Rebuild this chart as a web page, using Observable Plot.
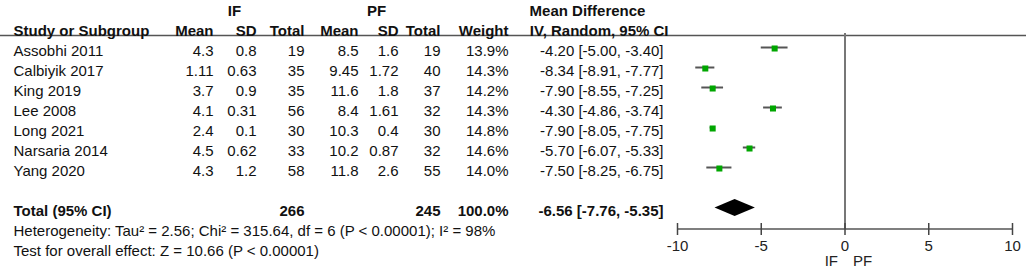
<!DOCTYPE html>
<html><head><meta charset="utf-8">
<script src="https://cdn.jsdelivr.net/npm/d3@7"></script>
<script src="https://cdn.jsdelivr.net/npm/@observablehq/plot@0.6"></script>
<style>
body{margin:0;background:#fff;}
#chart{position:relative;width:1026px;height:270px;background:#fff;}
#chart svg{position:absolute;left:0;top:0;}
</style></head><body><div id="chart"></div>
<script>
// ---- data ----
const studies = ["Assobhi 2011","Calbiyik 2017","King 2019","Lee 2008","Long 2021","Narsaria 2014","Yang 2020"];
const ifMean  = [4.3, 1.11, 3.7, 4.1, 2.4, 4.5, 4.3];
const ifSD    = [0.8, 0.63, 0.9, 0.31, 0.1, 0.62, 1.2];
const ifTotal = [19, 35, 35, 56, 30, 33, 58];
const pfMean  = [8.5, 9.45, 11.6, 8.4, 10.3, 10.2, 11.8];
const pfSD    = [1.6, 1.72, 1.8, 1.61, 0.4, 0.87, 2.6];
const pfTotal = [19, 40, 37, 32, 30, 32, 55];
const weight  = [13.9, 14.3, 14.2, 14.3, 14.8, 14.6, 14.0];
const md      = [-4.20, -8.34, -7.90, -4.30, -7.90, -5.70, -7.50];
const ciLow   = [-5.00, -8.91, -8.55, -4.86, -8.05, -6.07, -8.25];
const ciHigh  = [-3.40, -7.77, -7.25, -3.74, -7.75, -5.33, -6.75];
const totalLabel = "Total (95% CI)";
const totalIF = 266, totalPF = 245, totalWeight = 100.0;
const totalMD = -6.56, totalLow = -7.76, totalHigh = -5.35;
const heterogeneity = "Heterogeneity: Tau\u00b2 = 2.56; Chi\u00b2 = 315.64, df = 6 (P < 0.00001); I\u00b2 = 98%";
const overallEffect = "Test for overall effect: Z = 10.66 (P < 0.00001)";
const groupLabels = ["IF", "PF"];
const columnLabels = ["Study or Subgroup","Mean","SD","Total","Mean","SD","Total","Weight","IV, Random, 95% CI"];
const mdTitle = "Mean Difference";
const xTicks = [-10, -5, 0, 5, 10];
const favours = ["IF", "PF"];

// ---- layout ----
const W = 1026, H = 270, FS = 15;
const font = "'Liberation Sans', Arial, Helvetica, sans-serif";
const rowKeys = ["grp","head", ...studies.map((_, i) => "s" + i), "gap", "total", "het", "test"];
const yScale = {type: "point", domain: rowKeys, range: [9.4, 253], padding: 0, axis: null};
const colKeys = ["study","ifMean","ifSD","ifTotal","pfMean","pfSD","pfTotal","weight","md","mdHead","mdTitle","ifGrp","pfGrp"];
const colPos  = [13, 213, 256, 304, 358, 398, 440, 508, 663, 668, 587, 234, 376];
const fmtMD = (m, l, h) => `${m.toFixed(2)} [${l.toFixed(2)}, ${h.toFixed(2)}]`;

// table cells
const cells = [];
const add = (col, row, text, anchor, bold) => cells.push({col, row, text, anchor, bold});
add("ifGrp", "grp", groupLabels[0], "middle", true);
add("pfGrp", "grp", groupLabels[1], "middle", true);
add("mdTitle", "grp", mdTitle, "middle", true);
["study","ifMean","ifSD","ifTotal","pfMean","pfSD","pfTotal","weight","mdHead"].forEach((c, i) =>
  add(c, "head", columnLabels[i], i === 0 ? "start" : "end", true));
studies.forEach((s, i) => {
  const r = "s" + i;
  add("study", r, s, "start", false);
  add("ifMean", r, String(ifMean[i]), "end", false);
  add("ifSD", r, String(ifSD[i]), "end", false);
  add("ifTotal", r, String(ifTotal[i]), "end", false);
  add("pfMean", r, String(pfMean[i]), "end", false);
  add("pfSD", r, String(pfSD[i]), "end", false);
  add("pfTotal", r, String(pfTotal[i]), "end", false);
  add("weight", r, weight[i].toFixed(1) + "%", "end", false);
  add("md", r, fmtMD(md[i], ciLow[i], ciHigh[i]), "end", false);
});
add("study", "total", totalLabel, "start", true);
add("ifTotal", "total", String(totalIF), "end", true);
add("pfTotal", "total", String(totalPF), "end", true);
add("weight", "total", totalWeight.toFixed(1) + "%", "end", true);
add("md", "total", fmtMD(totalMD, totalLow, totalHigh), "end", true);
add("study", "het", heterogeneity, "start", false);
add("study", "test", overallEffect, "start", false);

const textMarks = [];
for (const anchor of ["start","middle","end"]) for (const bold of [false, true]) {
  const sub = cells.filter(d => d.anchor === anchor && d.bold === bold);
  if (sub.length) textMarks.push(Plot.text(sub, {x: "col", y: "row", text: "text", textAnchor: anchor,
    fontWeight: bold ? "bold" : "normal", fontSize: FS, fill: "#111"}));
}

const table = Plot.plot({
  width: W, height: H, margin: 0,
  style: {fontFamily: font, fontSize: FS + "px", background: "transparent"},
  x: {type: "ordinal", domain: colKeys, range: colPos, axis: null},
  y: yScale,
  marks: [
    Plot.ruleY(["head"], {dy: 4, stroke: "#555", strokeWidth: 1.5}),
    ...textMarks
  ]
});

// forest plot
const rows = studies.map((s, i) => ({row: "s" + i, md: md[i], lo: ciLow[i], hi: ciHigh[i], w: weight[i]}));
const forest = Plot.plot({
  width: W, height: H,
  marginLeft: 677, marginRight: 14, marginTop: 33, marginBottom: 41,
  style: {fontFamily: font, fontSize: FS + "px", background: "transparent"},
  x: {domain: [-10, 10]},
  y: yScale,
  marks: [
    Plot.ruleX([0], {stroke: "#777", strokeWidth: 2}),
    (index, scales, values, dim) => {
      const g = d3.create("svg:g");
      const y0 = dim.height - dim.marginBottom;
      g.append("line").attr("x1", scales.x(xTicks[0])).attr("x2", scales.x(xTicks[xTicks.length - 1]))
        .attr("y1", y0).attr("y2", y0).attr("stroke", "#555").attr("stroke-width", 1.5);
      return g.node();
    },
    Plot.axisX({anchor: "bottom", ticks: xTicks, tickFormat: d => String(d), tickSize: 12, dy: -6, tickPadding: 5,
      stroke: "#444", strokeWidth: 1.5, fill: "#222", fontSize: FS}),
    Plot.ruleY(rows, {y: "row", x1: "lo", x2: "hi", stroke: "#555", strokeWidth: 2, dy: -4}),
    Plot.dot(rows, {x: "md", y: "row", symbol: "square", r: 3.4, fill: "#00a600", stroke: "none", dy: -3}),
    (index, scales) => {
      const y0 = scales.y("total") - 3.5, h = 8.6;
      const pts = [[scales.x(totalLow), y0], [scales.x(totalMD), y0 - h], [scales.x(totalHigh), y0], [scales.x(totalMD), y0 + h]];
      const g = d3.create("svg:g");
      g.append("polygon").attr("points", pts.map(p => p.join(",")).join(" ")).attr("fill", "#000");
      return g.node();
    },
    Plot.text([mdTitle], {x: 0, y: "grp", text: d => d, fontWeight: "bold", fontSize: FS, fill: "#111"}),
    Plot.text([columnLabels[columnLabels.length - 1]], {x: 0, y: "head", text: d => d, fontWeight: "bold", fontSize: FS, fill: "#111", dx: 3}),
    Plot.text([favours[0]], {x: 0, frameAnchor: "bottom", text: d => d, textAnchor: "end", dx: -7, dy: 36, fontSize: FS, fill: "#222"}),
    Plot.text([favours[1]], {x: 0, frameAnchor: "bottom", text: d => d, textAnchor: "start", dx: 8, dy: 36, fontSize: FS, fill: "#222"})
  ]
});

const el = document.getElementById("chart");
el.append(table, forest);
</script>
</body></html>
